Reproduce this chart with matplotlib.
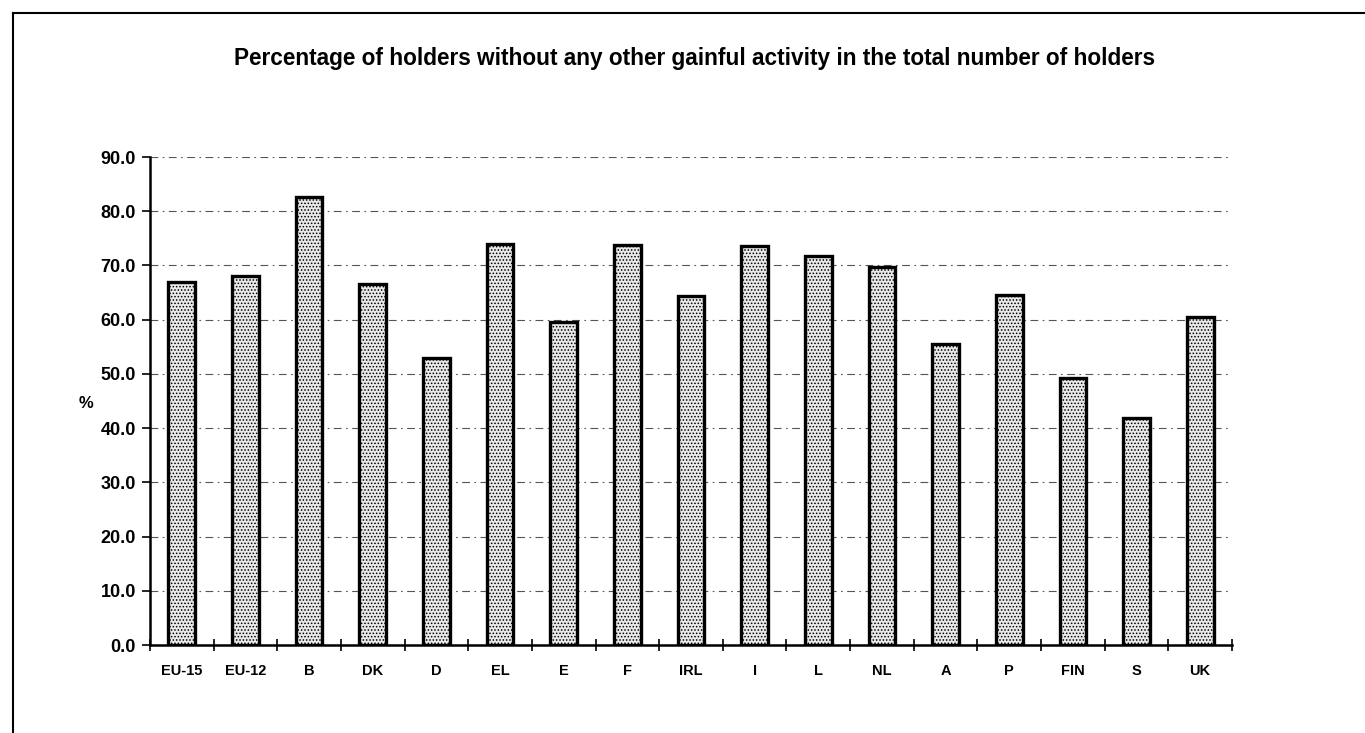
import numpy as np
import matplotlib
matplotlib.use('Agg')
import matplotlib.pyplot as plt
from matplotlib.lines import Line2D

plt.rcParams['font.family'] = ['Liberation Sans', 'DejaVu Sans']
plt.rcParams['font.weight'] = 'bold'
plt.rcParams['hatch.linewidth'] = 0.7
plt.rcParams['hatch.color'] = '#333333'

# Data
countries = ['EU-15', 'EU-12', 'B', 'DK', 'D', 'EL', 'E', 'F', 'IRL',
             'I', 'L', 'NL', 'A', 'P', 'FIN', 'S', 'UK']
share = [66.9, 68.0, 82.6, 66.5, 53.0, 74.0, 59.6, 73.8, 64.4,
         73.5, 71.8, 69.7, 55.5, 64.5, 49.2, 41.8, 60.5]
yticks = [0, 10, 20, 30, 40, 50, 60, 70, 80, 90]

fig = plt.figure(figsize=(13.65, 7.33), dpi=100)
ax = fig.add_axes([150/1365, 88/733, 1082/1365, 488/733])

x = np.arange(len(countries))
ax.bar(x, share, width=0.42, facecolor='#e9e9e9', edgecolor='black',
       linewidth=2.4, hatch='.....', zorder=3)

ax.set_xlim(-0.5, len(countries) - 0.5)
ax.set_ylim(0, 90)
ax.set_yticks(yticks)
ax.set_yticklabels(['{:.1f}'.format(v) for v in yticks], fontsize=13, fontweight='bold')
ax.set_xticks(x)
ax.set_xticklabels(countries, fontsize=10.5, fontweight='bold')
ax.tick_params(axis='x', which='major', length=0, pad=14)
ax.set_xticks(np.arange(-0.5, len(countries)), minor=True)
ax.tick_params(axis='x', which='minor', direction='inout', length=8, width=1.2)
ax.tick_params(axis='y', direction='out', length=6, width=1.2, pad=4)

ax.set_axisbelow(True)
ax.yaxis.grid(True, color='#555555', linewidth=0.8, linestyle=(0, (7, 4, 1.5, 4)))

for side in ['top', 'right']:
    ax.spines[side].set_visible(False)
for side in ['left', 'bottom']:
    ax.spines[side].set_linewidth(1.8)

fig.text(694/1365, 1 - 58/733, 'Percentage of holders without any other gainful activity in the total number of holders',
         ha='center', va='center', fontsize=16.3, fontweight='bold')
fig.text(86/1365, 1 - 403/733, '%', ha='center', va='center', fontsize=12, fontweight='bold')

# page frame (left and top edges)
fig.add_artist(Line2D([13/1365, 13/1365], [0, 1 - 13/733], color='black', linewidth=1.5))
fig.add_artist(Line2D([13/1365, 1], [1 - 13/733, 1 - 13/733], color='black', linewidth=1.5))

fig.savefig('out.png', dpi=100)
